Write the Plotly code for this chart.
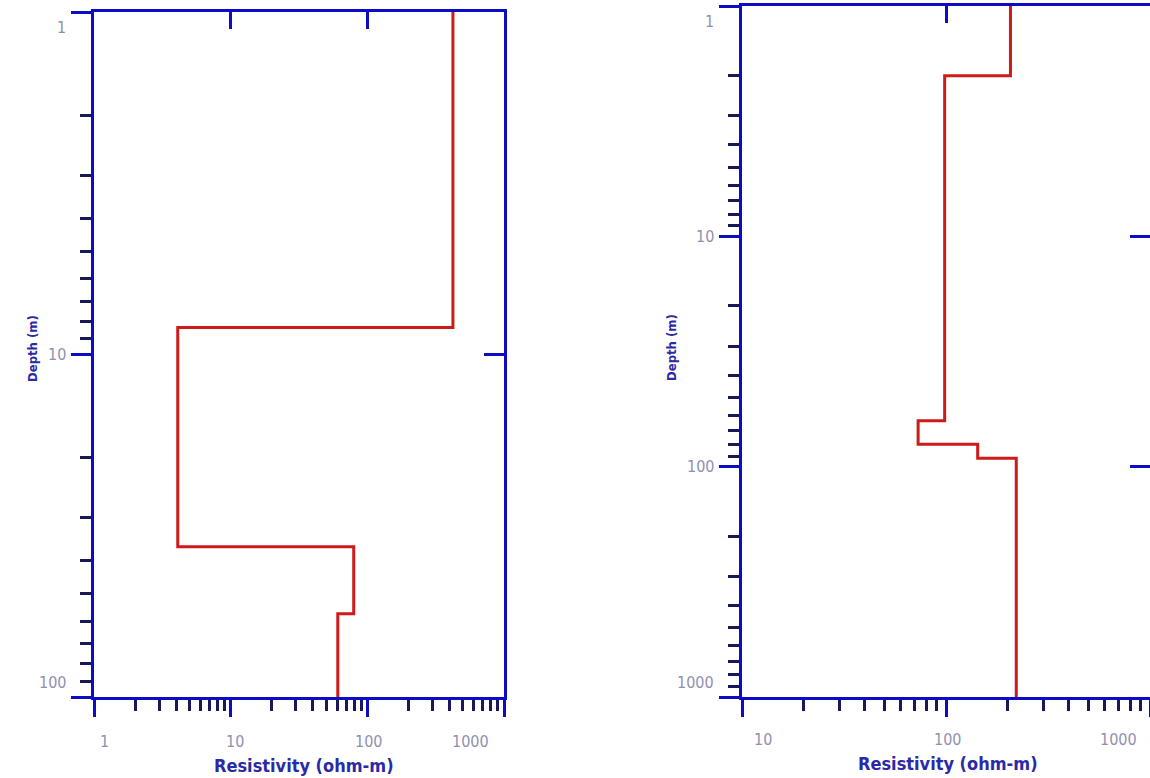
import plotly.graph_objects as go
import math

# ---------------- data ----------------
# Left sounding: layer resistivities (ohm-m) and layer boundary depths (m)
left_rho = [423, 4.1, 79.5, 60.8]
left_boundaries = [8.34, 36.4, 57.1]
left_depth_range = [1, 100]
left_res_range = [1, 1000]

# Right sounding
right_rho = [207, 98.5, 73, 143, 221]
right_boundaries = [2.01, 63.2, 80, 92]
right_depth_range = [1, 1000]
right_res_range = [10, 1000]

left_x_ticks = [1, 10, 100, 1000]
left_x_labels = ["1", "10", "100", "1000"]
left_y_ticks = [1, 10, 100]
left_y_labels = ["1", "10", "100"]
right_x_ticks = [10, 100, 1000]
right_x_labels = ["10", "100", "1000"]
right_y_ticks = [1, 10, 100, 1000]
right_y_labels = ["1", "10", "100", "1000"]

x_title = "Resistivity (ohm-m)"
y_title = "Depth (m)"

# ---------------- style ----------------
W, H = 1150, 778
AXIS = "#0c0cc4"
MINOR = "#18185a"
RED = "#cf1a1a"
TICKLAB = "#9090b0"
TITLE = "#2a2aa8"
FONT = "DejaVu Sans Condensed, DejaVu Sans, sans-serif"


def minor_vals(lo, hi):
    out = []
    d = 10 ** math.floor(math.log10(lo))
    while d < hi:
        for m in range(2, 10):
            v = m * d
            if lo < v < hi * 1.0001:
                out.append(v)
        d *= 10
    return out


def step_xy(rho, bnd, drange):
    ys = [drange[0]] + list(bnd) + [drange[1]]
    xs = list(rho) + [rho[-1]]
    return xs, ys


def px_x(p):
    return p / W


def px_y(p):
    return 1 - p / H


# pixel frames of the two panels
L = dict(x0=94, x1=504, y0=12, y1=697)
R = dict(x0=742, x1=1150, y0=6, y1=697)

fig = go.Figure()

lx, ly = step_xy(left_rho, left_boundaries, left_depth_range)
fig.add_trace(go.Scatter(x=lx, y=ly, mode="lines", line=dict(color=RED, width=3, shape="vh"),
                         xaxis="x", yaxis="y", showlegend=False, hoverinfo="x+y"))
rx, ry = step_xy(right_rho, right_boundaries, right_depth_range)
fig.add_trace(go.Scatter(x=rx, y=ry, mode="lines", line=dict(color=RED, width=3, shape="vh"),
                         xaxis="x2", yaxis="y2", showlegend=False, hoverinfo="x+y"))
# empty traces that anchor the top/right frame axes
fig.add_trace(go.Scatter(x=[], y=[], xaxis="x3", yaxis="y3", showlegend=False, hoverinfo="skip"))
fig.add_trace(go.Scatter(x=[], y=[], xaxis="x4", yaxis="y4", showlegend=False, hoverinfo="skip"))


def lg(r):
    return [math.log10(r[0]), math.log10(r[1])]


common = dict(type="log", showgrid=False, zeroline=False, showline=True, linecolor=AXIS,
              linewidth=3, automargin=False, fixedrange=True)

l_xr = lg(left_res_range)
l_yr = lg(left_depth_range)[::-1]
r_xr = lg(right_res_range)
r_yr = lg(right_depth_range)[::-1]

dom_lx = [px_x(L["x0"]), px_x(L["x1"])]
dom_ly = [px_y(L["y1"]), px_y(L["y0"])]
dom_rx = [px_x(R["x0"]), min(1.0, px_x(R["x1"]))]
dom_ry = [px_y(R["y1"]), px_y(R["y0"])]

fig.update_layout(
    width=W, height=H, margin=dict(l=0, r=0, t=0, b=0),
    paper_bgcolor="white", plot_bgcolor="white", showlegend=False,
    xaxis=dict(**common, domain=dom_lx, range=l_xr, anchor="y",
               tickmode="array", tickvals=left_x_ticks, showticklabels=False,
               ticks="outside", ticklen=17, tickwidth=3, tickcolor=AXIS,
               minor=dict(tickmode="array", tickvals=minor_vals(*left_res_range), ticks="outside",
                          ticklen=11, tickwidth=3, tickcolor=MINOR)),
    yaxis=dict(**common, domain=dom_ly, range=l_yr, anchor="x",
               tickmode="array", tickvals=left_y_ticks, showticklabels=False,
               ticks="outside", ticklen=20, tickwidth=3, tickcolor=AXIS,
               minor=dict(tickmode="array", tickvals=minor_vals(*left_depth_range), ticks="outside",
                          ticklen=11, tickwidth=3, tickcolor=MINOR)),
    xaxis3=dict(**common, domain=dom_lx, range=l_xr, anchor="y3", overlaying="x", side="top",
                tickmode="array", tickvals=[10, 100], showticklabels=False,
                ticks="inside", ticklen=17, tickwidth=3, tickcolor=AXIS),
    yaxis3=dict(**common, domain=dom_ly, range=l_yr, anchor="x3", overlaying="y", side="right",
                tickmode="array", tickvals=[10], showticklabels=False,
                ticks="inside", ticklen=20, tickwidth=3, tickcolor=AXIS),
    xaxis2=dict(**common, domain=dom_rx, range=r_xr, anchor="y2",
                tickmode="array", tickvals=right_x_ticks, showticklabels=False,
                ticks="outside", ticklen=17, tickwidth=3, tickcolor=AXIS,
                minor=dict(tickmode="array", tickvals=minor_vals(*right_res_range), ticks="outside",
                           ticklen=11, tickwidth=3, tickcolor=MINOR)),
    yaxis2=dict(**common, domain=dom_ry, range=r_yr, anchor="x2",
                tickmode="array", tickvals=right_y_ticks, showticklabels=False,
                ticks="outside", ticklen=20, tickwidth=3, tickcolor=AXIS,
                minor=dict(tickmode="array", tickvals=minor_vals(*right_depth_range), ticks="outside",
                           ticklen=11, tickwidth=3, tickcolor=MINOR)),
    xaxis4=dict(**common, domain=dom_rx, range=r_xr, anchor="y4", overlaying="x2", side="top",
                tickmode="array", tickvals=[100], showticklabels=False,
                ticks="inside", ticklen=17, tickwidth=3, tickcolor=AXIS),
    yaxis4=dict(type="log", showgrid=False, zeroline=False, showline=False, automargin=False,
                domain=dom_ry, range=r_yr, anchor="x4", overlaying="y2", side="right",
                tickmode="array", tickvals=[10, 100], showticklabels=False,
                ticks="inside", ticklen=20, tickwidth=3, tickcolor=AXIS),
)

ann = []
tickfont = dict(family=FONT, size=16, color=TICKLAB)

# x tick labels (edge labels pulled inward as in the original)
lx_shift = [10, 4, 1, -34]
for v, t, s in zip(left_x_ticks, left_x_labels, lx_shift):
    ann.append(dict(x=math.log10(v), xref="x", y=px_y(741), yref="paper", text=t, showarrow=False,
                    xanchor="center", yanchor="middle", xshift=s, font=tickfont))
rx_shift = [21, 1, -32]
for v, t, s in zip(right_x_ticks, right_x_labels, rx_shift):
    ann.append(dict(x=math.log10(v), xref="x2", y=px_y(739), yref="paper", text=t, showarrow=False,
                    xanchor="center", yanchor="middle", xshift=s, font=tickfont))
# y tick labels
ly_shift = [-15, 0, 15]
for v, t, s in zip(left_y_ticks, left_y_labels, ly_shift):
    ann.append(dict(x=px_x(68), xref="paper", y=math.log10(v), yref="y", text=t, showarrow=False,
                    xanchor="right", yanchor="middle", yshift=s, font=tickfont))
ry_shift = [-16, 0, 0, 15]
for v, t, s in zip(right_y_ticks, right_y_labels, ry_shift):
    ann.append(dict(x=px_x(716), xref="paper", y=math.log10(v), yref="y2", text=t, showarrow=False,
                    xanchor="right", yanchor="middle", yshift=s, font=tickfont))

titlefont = dict(family=FONT, size=18, color=TITLE, weight="bold")
ann.append(dict(x=px_x(304), y=px_y(765), xref="paper", yref="paper", text=x_title, showarrow=False,
                xanchor="center", yanchor="middle", font=titlefont))
ann.append(dict(x=px_x(948), y=px_y(763), xref="paper", yref="paper", text=x_title, showarrow=False,
                xanchor="center", yanchor="middle", font=titlefont))
ann.append(dict(x=px_x(33), y=px_y(349), xref="paper", yref="paper", text=y_title, showarrow=False,
                xanchor="center", yanchor="middle", textangle=-90, font=dict(titlefont, size=13)))
ann.append(dict(x=px_x(671), y=px_y(348), xref="paper", yref="paper", text=y_title, showarrow=False,
                xanchor="center", yanchor="middle", textangle=-90, font=dict(titlefont, size=13)))

fig.update_layout(annotations=ann)
fig.write_html("out.html", config={"displayModeBar": False},
               post_script="document.body.style.margin='0';")
